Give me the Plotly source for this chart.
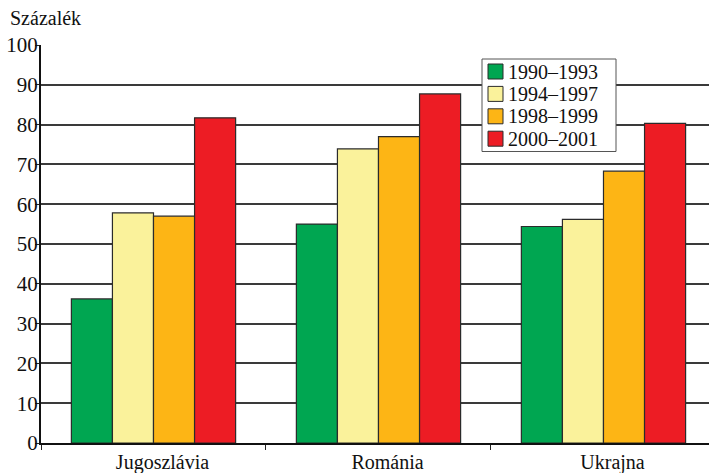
import plotly.graph_objects as go

countries = ["Jugoszlávia", "Románia", "Ukrajna"]
periods = ["1990–1993", "1994–1997", "1998–1999", "2000–2001"]
values = {
    "1990–1993": [36.2, 55.0, 54.4],
    "1994–1997": [57.8, 73.9, 56.2],
    "1998–1999": [57.0, 77.0, 68.3],
    "2000–2001": [81.7, 87.7, 80.3],
}
colors = ["#00A651", "#FAF29B", "#FDB515", "#ED1C24"]
y_ticks = list(range(0, 101, 10))

FONT = "Liberation Serif, Times New Roman, serif"
TEXT = "#111"

W, H = 709, 473
ML, MR, MT, MB = 41, 0, 45, 30
PW, PH = W - ML - MR, H - MT - MB


def px(xp):
    """Horizontal pixel -> paper fraction."""
    return (xp - ML) / PW


def py(yp):
    """Vertical pixel (from top) -> paper fraction."""
    return (H - MB - yp) / PH


fig = go.Figure()
for period, color in zip(periods, colors):
    fig.add_trace(go.Bar(
        name=period,
        x=countries,
        y=values[period],
        marker=dict(color=color, line=dict(color="#2b2b2b", width=1.2)),
        showlegend=False,
    ))

# Boxed key in the upper right of the plot
shapes = [dict(
    type="rect", xref="paper", yref="paper", layer="above",
    x0=px(482), x1=px(616), y0=py(151.5), y1=py(59),
    fillcolor="white", line=dict(color="#555", width=1),
)]
annotations = []
row_y = [71.5, 93.9, 116.3, 138.7]
for period, color, ry in zip(periods, colors, row_y):
    shapes.append(dict(
        type="rect", xref="paper", yref="paper", layer="above",
        x0=px(488), x1=px(503), y0=py(ry + 7.5), y1=py(ry - 7.5),
        fillcolor=color, line=dict(color="#2b2b2b", width=1),
    ))
    annotations.append(dict(
        text=period, xref="paper", yref="paper",
        x=px(507), y=py(ry), xanchor="left", yanchor="middle",
        borderpad=0,
        showarrow=False, font=dict(family=FONT, size=20, color=TEXT),
    ))

annotations.append(dict(
    text="Százalék", xref="paper", yref="paper",
    x=px(8), y=py(18), xanchor="left", yanchor="middle",
    showarrow=False, font=dict(family=FONT, size=20, color=TEXT),
))

fig.update_layout(
    width=W,
    height=H,
    margin=dict(l=ML, r=MR, t=MT, b=MB),
    paper_bgcolor="white",
    plot_bgcolor="white",
    barmode="group",
    bargap=0.27,
    bargroupgap=0,
    font=dict(family=FONT, size=20, color=TEXT),
    showlegend=False,
    xaxis=dict(
        type="category",
        range=[-0.5, 2.469],
        tickson="boundaries",
        ticks="outside", ticklen=5, tickcolor="#222", tickwidth=1,
        showline=True, linecolor="#111", linewidth=2,
        showgrid=False,
        ticklabelshift=9,
        tickfont=dict(family=FONT, size=20, color=TEXT),
    ),
    yaxis=dict(
        range=[0, 100],
        tickvals=y_ticks,
        ticks="outside", ticklen=4, tickcolor="#222", tickwidth=1,
        ticklabelstandoff=-7,
        showline=True, linecolor="#111", linewidth=2,
        showgrid=True, gridcolor="#3a3a3a", gridwidth=1.5,
        zeroline=False,
        tickfont=dict(family=FONT, size=21, color=TEXT),
    ),
    shapes=shapes,
    annotations=annotations,
)

fig.write_html("out.html")
